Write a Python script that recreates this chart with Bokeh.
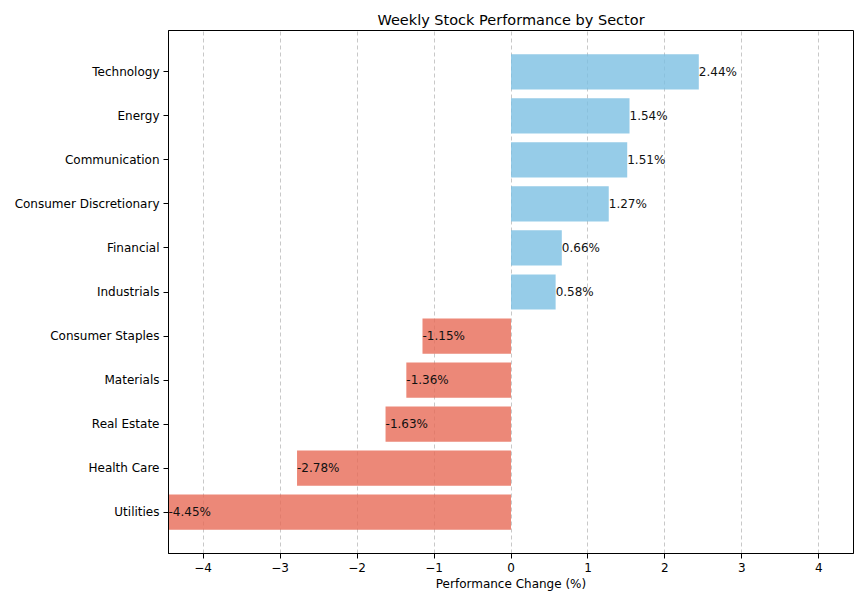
from bokeh.plotting import figure
from bokeh.models import ColumnDataSource, FixedTicker, Range1d
from bokeh.core.properties import value
from bokeh.embed import file_html
from bokeh.resources import INLINE

sectors = ["Utilities", "Health Care", "Real Estate", "Materials", "Consumer Staples",
           "Industrials", "Financial", "Consumer Discretionary", "Communication", "Energy", "Technology"]
changes = [-4.45, -2.78, -1.63, -1.36, -1.15, 0.58, 0.66, 1.27, 1.51, 1.54, 2.44]
x_ticks = [-4, -3, -2, -1, 0, 1, 2, 3, 4]

FONT = "DejaVu Sans"
pos_color = "#7CBFE2"
neg_color = "#E76A56"

ypos = list(range(len(sectors)))
colors = [pos_color if v >= 0 else neg_color for v in changes]
labels = [f"{v:.2f}%" for v in changes]
src = ColumnDataSource(dict(y=ypos, v=changes, c=colors, lab=labels, zero=[0] * len(changes)))

p = figure(width=860, height=596, output_backend="svg", toolbar_location=None,
           x_range=Range1d(-4.45, 4.45), y_range=Range1d(-0.94, 10.94),
           min_border_left=168, min_border_right=7, min_border_top=30, min_border_bottom=43)

p.hbar(y="y", left="zero", right="v", height=0.8, fill_color="c", fill_alpha=0.8,
       line_color=None, source=src)
p.text(x="v", y="y", text="lab", source=src, text_align="left", text_baseline="middle",
       text_font=value(FONT), text_font_size="12px", text_color="#111111")

p.title.text = "Weekly Stock Performance by Sector"
p.title.align = "center"
p.title.text_font = FONT
p.title.text_font_size = "14.5px"
p.title.text_font_style = "normal"
p.title.text_color = "black"
p.title.standoff = 6

p.xaxis.ticker = FixedTicker(ticks=x_ticks)
p.xaxis.major_label_overrides = {t: (f"\u2212{abs(t)}" if t < 0 else str(t)) for t in x_ticks}
p.yaxis.ticker = FixedTicker(ticks=ypos)
p.yaxis.major_label_overrides = {i: s for i, s in enumerate(sectors)}
for ax in (p.xaxis, p.yaxis):
    ax.major_label_text_font = FONT
    ax.major_label_text_font_size = "12px"
    ax.major_label_text_color = "black"
    ax.axis_line_color = "black"
    ax.major_tick_line_color = "black"
    ax.major_tick_out = 5
    ax.major_tick_in = 0
    ax.minor_tick_line_color = None
    ax.major_label_standoff = 4
p.xaxis.axis_label = "Performance Change (%)"
p.xaxis.axis_label_text_font = FONT
p.xaxis.axis_label_text_font_size = "12px"
p.xaxis.axis_label_text_font_style = "normal"
p.xaxis.axis_label_text_color = "black"
p.xaxis.axis_label_standoff = 2

p.xgrid.grid_line_color = "#b0b0b0"
p.xgrid.grid_line_dash = "4 3"
p.xgrid.grid_line_alpha = 0.7
p.ygrid.grid_line_color = None
p.outline_line_color = "black"
p.outline_line_alpha = 1

open("out.html", "w").write(file_html(p, INLINE))
